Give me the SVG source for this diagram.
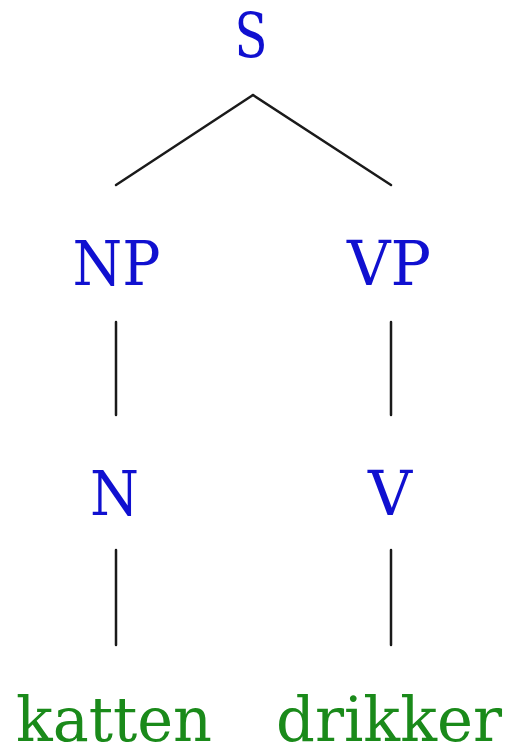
<svg xmlns="http://www.w3.org/2000/svg" width="516" height="751" viewBox="0 0 516 751">
<style>
text{font-family:"DejaVu Serif","Liberation Serif",serif;text-anchor:middle}
.c{fill:#1010d0;font-size:61px}
.w{fill:#1a8a1a;font-size:62px}
line{stroke:#1a1a1a;stroke-width:2.5;stroke-linecap:round}
</style>
<rect width="516" height="751" fill="#fff"/>
<g id="connectors">
<line x1="253" y1="95" x2="116" y2="185"/>
<line x1="253" y1="95" x2="391" y2="185"/>
<line x1="116" y1="322" x2="116" y2="415"/>
<line x1="391" y1="322" x2="391" y2="415"/>
<line x1="116" y1="550" x2="116" y2="645"/>
<line x1="391" y1="550" x2="391" y2="645"/>
</g>
<g id="S"><text class="c" x="251" y="57" textLength="33" lengthAdjust="spacingAndGlyphs">S</text></g>
<g id="NP"><text class="c" x="116.5" y="285" textLength="88" lengthAdjust="spacingAndGlyphs">NP</text></g>
<g id="VP"><text class="c" x="389" y="285" textLength="84" lengthAdjust="spacingAndGlyphs">VP</text></g>
<g id="N"><text class="c" x="114.5" y="515" textLength="49" lengthAdjust="spacingAndGlyphs">N</text></g>
<g id="V"><text class="c" x="390" y="515" textLength="44" lengthAdjust="spacingAndGlyphs">V</text></g>
<g id="katten"><text class="w" x="114" y="741" textLength="196" lengthAdjust="spacingAndGlyphs">katten</text></g>
<g id="drikker"><text class="w" x="389" y="741" textLength="226" lengthAdjust="spacingAndGlyphs">drikker</text></g>
</svg>
